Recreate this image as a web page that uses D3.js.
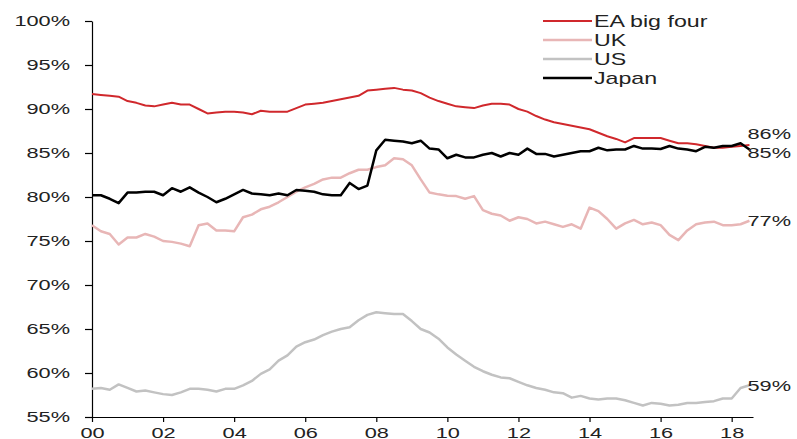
<!DOCTYPE html>
<html>
<head>
<meta charset="utf-8">
<script src="https://cdn.jsdelivr.net/npm/d3@7"></script>
<style>
  body { margin: 0; background: #fff; }
  text { font-family: "Liberation Sans", Arial, sans-serif; fill: #222; }
</style>
</head>
<body>
<div id="chart"></div>
<script>
// quarterly shares, 2000Q1 .. 2018Q3
let startYear = 2000;
let eaBigFour = [91.7,91.6,91.5,91.4,90.9,90.7,90.4,90.3,90.5,90.7,90.5,90.5,90.0,89.5,89.6,89.7,89.7,89.6,89.4,89.8,89.7,89.7,89.7,90.1,90.5,
    90.6,90.7,90.9,91.1,91.3,91.5,92.1,92.2,92.3,92.4,92.2,92.1,91.8,91.3,90.9,90.6,90.3,90.2,90.1,90.4,90.6,90.6,90.5,90.0,89.7,
    89.2,88.8,88.5,88.3,88.1,87.9,87.7,87.3,86.9,86.6,86.2,86.7,86.7,86.7,86.7,86.4,86.1,86.1,86.0,85.8,85.6,85.6,85.7,85.8,85.9];
let uk = [76.8,76.1,75.8,74.6,75.4,75.4,75.8,75.5,75.0,74.9,74.7,74.4,76.8,77.0,76.2,76.2,76.1,77.7,78.0,78.6,78.9,79.4,80.0,80.6,81.1,
    81.5,82.0,82.2,82.2,82.7,83.1,83.1,83.4,83.6,84.4,84.3,83.6,82.0,80.5,80.3,80.15,80.1,79.8,80.1,78.5,78.1,77.9,77.3,77.7,77.5,
    77.0,77.2,76.9,76.6,76.9,76.4,78.8,78.4,77.5,76.4,77.0,77.4,76.9,77.1,76.8,75.7,75.1,76.2,76.9,77.1,77.2,76.8,76.8,76.9,77.3];
let us = [58.2,58.3,58.1,58.7,58.3,57.9,58.0,57.8,57.6,57.5,57.8,58.2,58.2,58.1,57.9,58.2,58.2,58.6,59.1,59.9,60.4,61.4,62.0,63.0,63.5,
    63.8,64.3,64.7,65.0,65.2,66.0,66.6,66.9,66.8,66.7,66.7,65.9,65.0,64.6,63.9,62.9,62.1,61.4,60.7,60.2,59.8,59.5,59.4,59.0,58.6,
    58.3,58.1,57.8,57.7,57.2,57.4,57.1,57.0,57.1,57.1,56.9,56.6,56.3,56.6,56.5,56.3,56.4,56.6,56.6,56.7,56.8,57.1,57.1,58.3,58.6];
let japan = [80.2,80.2,79.8,79.3,80.5,80.5,80.6,80.6,80.2,81.0,80.6,81.1,80.5,80.0,79.4,79.8,80.3,80.8,80.4,80.3,80.2,80.4,80.2,80.8,80.7,
    80.6,80.3,80.2,80.2,81.6,80.9,81.3,85.3,86.5,86.4,86.3,86.1,86.4,85.5,85.4,84.4,84.8,84.5,84.5,84.8,85.0,84.6,85.0,84.8,85.5,
    84.9,84.9,84.6,84.8,85.0,85.2,85.2,85.6,85.3,85.4,85.4,85.8,85.5,85.5,85.45,85.8,85.5,85.4,85.2,85.7,85.6,85.8,85.8,86.1,85.4];

let seriesNames = ["EA big four", "UK", "US", "Japan"];
let endLabels = ["86%", "77%", "59%", "85%"];
let yTicks = [55, 60, 65, 70, 75, 80, 85, 90, 95, 100];
let xTicks = [2000, 2002, 2004, 2006, 2008, 2010, 2012, 2014, 2016, 2018];

function LineChart(){
    let self = this;
    self.series = [
        {name: seriesNames[0], values: eaBigFour, color: "#d0282c", width: 2, label: endLabels[0], dy: -11},
        {name: seriesNames[1], values: uk, color: "#e8b6b6", width: 2.5, label: endLabels[1], dy: 0},
        {name: seriesNames[2], values: us, color: "#c2c2c2", width: 2.5, label: endLabels[2], dy: 0},
        {name: seriesNames[3], values: japan, color: "#000000", width: 2.5, label: endLabels[3], dy: 3}
    ];
    self.init();
};

LineChart.prototype.init = function(){
    let self = this;
    self.svgWidth = 797;
    self.svgHeight = 439;
    self.margin = {top: 21, right: 44, bottom: 22, left: 92};
    self.stretch = 1.45; // glyphs are drawn wide in the original

    self.svg = d3.select("#chart").append("svg")
        .attr("width", self.svgWidth)
        .attr("height", self.svgHeight);

    self.x = d3.scaleLinear()
        .domain([2000, 2018.6])
        .range([self.margin.left, self.svgWidth - self.margin.right]);
    self.y = d3.scaleLinear()
        .domain([55, 100])
        .range([self.svgHeight - self.margin.bottom, self.margin.top]);

    self.drawAxes();
    self.drawLines();
    self.drawLegend();
};

LineChart.prototype.drawAxes = function(){
    let self = this;
    let s = self.stretch;

    let yAxis = self.svg.append("g")
        .attr("transform", "translate(" + self.margin.left + ",0)")
        .call(d3.axisLeft(self.y).tickValues(yTicks).tickSize(7).tickSizeOuter(0)
            .tickFormat((d) => d + "%"));
    yAxis.selectAll("text")
        .attr("x", -22 / s)
        .attr("transform", "scale(" + s + ",1)")
        .style("font-size", "15px");

    let xAxis = self.svg.append("g")
        .attr("transform", "translate(0," + (self.svgHeight - self.margin.bottom) + ")")
        .call(d3.axisBottom(self.x).tickValues(xTicks).tickSize(5).tickPadding(5).tickSizeOuter(0)
            .tickFormat((d) => String(d % 100).padStart(2, "0")));
    xAxis.selectAll("text")
        .attr("transform", "scale(" + s + ",1)")
        .style("font-size", "15px");

    self.svg.selectAll(".domain, .tick line")
        .attr("stroke", "#000")
        .attr("stroke-width", 1.2);
};

LineChart.prototype.drawLines = function(){
    let self = this;
    let line = d3.line()
        .x((d, i) => self.x(startYear + i * 0.25))
        .y((d) => self.y(d));

    // draw light lines first, black on top
    let order = [2, 1, 0, 3];
    order.forEach(function(k){
        let sr = self.series[k];
        self.svg.append("path")
            .datum(sr.values)
            .attr("fill", "none")
            .attr("stroke", sr.color)
            .attr("stroke-width", sr.width)
            .attr("stroke-linejoin", "round")
            .attr("d", line);
    });

    self.series.forEach(function(sr){
        let n = sr.values.length - 1;
        self.svg.append("text")
            .attr("transform", "translate(" + (self.x(startYear + n * 0.25) - 2) + "," + (self.y(sr.values[n]) + sr.dy) + ") scale(" + self.stretch + ",1)")
            .attr("dy", "0.35em")
            .style("font-size", "15px")
            .text(sr.label);
    });
};

LineChart.prototype.drawLegend = function(){
    let self = this;
    let legend = self.svg.append("g");
    self.series.forEach(function(sr, i){
        let yy = 21 + i * 19;
        legend.append("line")
            .attr("x1", 543).attr("x2", 592)
            .attr("y1", yy).attr("y2", yy)
            .attr("stroke", sr.color)
            .attr("stroke-width", sr.width);
        legend.append("text")
            .attr("transform", "translate(594," + yy + ") scale(" + self.stretch + ",1)")
            .attr("dy", "0.35em")
            .style("font-size", "16px")
            .text(sr.name);
    });
};

new LineChart();
</script>
</body>
</html>
